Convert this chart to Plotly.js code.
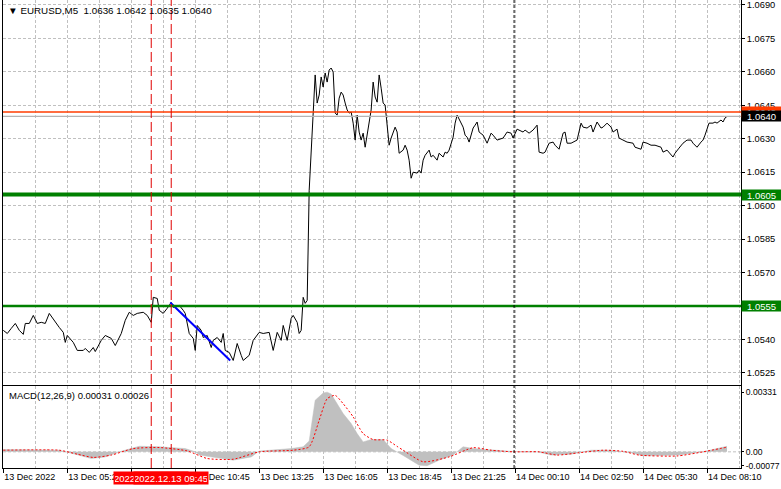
<!DOCTYPE html>
<html>
<head>
<meta charset="utf-8">
<script src="https://cdn.plot.ly/plotly-3.0.1.min.js"></script>
<style>
  html, body { margin: 0; padding: 0; background: #ffffff; }
  #chart { width: 781px; height: 489px; }
</style>
</head>
<body>
<div id="chart"></div>
<script>
// ---------- DATA ----------
// M5 bar number counted from the first bar on the chart
const priceBar = [
  0,2,4,6,8,10,11,13,15,17,19,21,23,25,28,30,31,32,35,37,40,41,43,45,46,49,51,54,56,59,61,63,65,67,70,72,74,75,77,78,80,82,84,85,88,90,91,93,95,96,97,99,100,102,104,105,107,109,110,111,113,115,116,117,119,120,123,125,128,130,133,135,137,139,140,142,144,145,147,148,149,150,151,152,153,154,155,156,
  157,158,159,160,161,162,163,164,165,166,167,168,169,170,171,172,173,174,175,176,177,178,179,180,181,182,183,184,185,186,187,188,189,190,191,192,193,194,195,196,197,198,200,201,202,203,204,205,207,208,209,210,211,212,213,214,215,217,218,220,221,222,223,225,226,227,229,230,231,232,233,235,236,237,238,240,242,244,
  245,247,250,252,254,255,257,260,261,263,265,267,268,270,271,273,275,276,278,280,281,282,284,285,287,289,290,292,294,295,297,299,300,302,304,305,307,308,310,312,315,316,319,320,322,324,326,329,330,332,335,336,338,340,342,344,345,347,349,350,351,353,355,356,357,359,360,361,362
];
const priceClose = [
  1.05441,1.05427,1.05450,1.05472,1.05441,1.05423,1.05472,1.05472,1.05508,1.05472,1.05477,1.05472,1.05517,1.05490,1.05454,1.05432,1.05387,1.05418,1.05387,1.05351,1.05351,1.05360,1.05342,1.05364,1.05346,1.05396,1.05418,1.05405,1.05373,1.05427,1.05486,1.05522,1.05508,1.05517,1.05522,1.05508,1.05477,1.05589,1.05584,1.05531,1.05517,1.05540,1.05566,1.05544,1.05553,1.05531,1.05517,1.05427,1.05405,1.05351,1.05463,1.05441,1.05409,1.05418,1.05364,1.05396,1.05409,1.05387,1.05427,1.05351,1.05342,1.05306,1.05342,1.05382,1.05329,1.05306,1.05329,1.05396,1.05432,1.05427,1.05432,1.05351,1.05432,1.05396,1.05463,1.05396,1.05495,1.05508,1.05477,1.05427,1.05441,1.05589,1.05562,1.05575,1.06069,1.06249,1.06384,1.06586,
  1.06460,1.06496,1.06577,1.06532,1.06595,1.06554,1.06608,1.06617,1.06599,1.06415,1.06406,1.06482,1.06509,1.06496,1.06460,1.06429,1.06415,1.06420,1.06370,1.06294,1.06406,1.06330,1.06294,1.06325,1.06262,1.06316,1.06370,1.06429,1.06554,1.06487,1.06464,1.06586,1.06527,1.06460,1.06451,1.06352,1.06271,1.06303,1.06330,1.06352,1.06330,1.06235,1.06249,1.06271,1.06249,1.06204,1.06123,1.06150,1.06146,1.06159,1.06146,1.06204,1.06226,1.06240,1.06249,1.06218,1.06226,1.06204,1.06235,1.06218,1.06240,1.06235,1.06249,1.06307,1.06370,1.06406,1.06370,1.06352,1.06316,1.06307,1.06285,1.06348,1.06361,1.06375,1.06330,1.06316,1.06280,1.06325,
  1.06316,1.06294,1.06303,1.06330,1.06325,1.06303,1.06343,1.06330,1.06339,1.06325,1.06339,1.06361,1.06240,1.06235,1.06240,1.06280,1.06285,1.06271,1.06253,1.06325,1.06330,1.06280,1.06280,1.06285,1.06294,1.06370,1.06352,1.06348,1.06361,1.06330,1.06375,1.06348,1.06352,1.06370,1.06352,1.06330,1.06343,1.06303,1.06294,1.06285,1.06280,1.06262,1.06253,1.06285,1.06280,1.06271,1.06271,1.06262,1.06240,1.06249,1.06218,1.06235,1.06258,1.06280,1.06294,1.06294,1.06280,1.06262,1.06285,1.06294,1.06316,1.06370,1.06370,1.06375,1.06370,1.06384,1.06375,1.06393,1.06400
];

const macdBar  = [0,14,28,36,44,51,58,68,78,91,96,98,115,124,128,144,150,153,154,156,160,162,164,167,170,174,177,180,184,190,194,200,204,208,212,218,225,230,235,244,255,267,274,284,294,304,314,320,330,338,350,357,362];
const macdMain = [0.00013,0.00013,0.00009,-0.00013,-0.00037,-0.00028,0,0.00031,0.00028,0.00018,0,-0.00018,-0.00046,-0.00028,0.00004,0.00018,0.00028,0.00060,0.00138,0.00286,0.00326,0.00331,0.00320,0.00267,0.00212,0.00157,0.00101,0.00055,0.00068,0.00068,0.00018,-0.00020,-0.00046,-0.00074,-0.00077,-0.00046,-0.00018,0.00028,0.00018,0.00009,0.00002,0,-0.00018,-0.00013,0.00009,0.00009,-0.00005,-0.00022,-0.00022,-0.00018,0,0.00018,0.00031];

const signalBar  = [0,28,37,45,54,65,78,92,102,115,128,145,153,158,162,166,170,175,180,185,192,197,200,210,223,235,244,255,268,277,288,300,310,318,337,350,362];
const macdSignal = [0.00009,0.00009,-0.00013,-0.00031,-0.00018,0.00018,0.00024,0.00005,-0.00037,-0.00041,0,0.00009,0.00028,0.00175,0.00295,0.00313,0.00267,0.00194,0.00101,0.00068,0.00065,0.00030,0.00009,-0.00055,-0.00028,0.00023,0.00009,0,0,-0.00018,-0.00005,0.00009,0.00003,-0.00018,-0.00023,0,0.00026];

const levelPrices = [1.0605, 1.0555];
const bidPrice = 1.0640;
const askPrice = 1.0642;
const trendBars = [83.5, 113.5];
const trendPrices = [1.05566, 1.05306];

const priceTicks = [1.0525,1.0540,1.0555,1.0570,1.0585,1.0600,1.0615,1.0630,1.0645,1.0660,1.0675,1.0690];
const macdTicks = [-0.00077, 0, 0.00331];
const macdTickLabels = ['-0.00077', '0.00', '0.00331'];

const timeTickBars = [0,32,64,96,128,160,192,224,256,288,320,352];
const timeTickLabels = ['13 Dec 2022','13 Dec 05:25','13 Dec 08:05','13 Dec 10:45','13 Dec 13:25','13 Dec 16:05','13 Dec 18:45','13 Dec 21:25','14 Dec 00:10','14 Dec 02:50','14 Dec 05:30','14 Dec 08:10'];

const markerBars = [74, 84];
const markerLabels = ['2022.12.13 08:55', '2022.12.13 09:45'];
const daySeparatorBar = 255.5;

const headerText = '\u25BC EURUSD,M5  1.0636 1.0642 1.0635 1.0640';
const macdText = 'MACD(12,26,9) 0.00031 0.00026';

// ---------- CHART ----------
const FONT = 'Liberation Sans, Arial, sans-serif';
const GRID = '#c0c0c0';

const traces = [
  { x: priceBar, y: priceClose, xaxis: 'x2', yaxis: 'y', type: 'scatter', mode: 'lines',
    line: { color: '#000000', width: 1 }, hoverinfo: 'skip' },
  { x: trendBars, y: trendPrices, xaxis: 'x2', yaxis: 'y', type: 'scatter', mode: 'lines',
    line: { color: '#0000ff', width: 2 }, hoverinfo: 'skip' },
  { x: macdBar, y: macdMain, xaxis: 'x', yaxis: 'y2', type: 'scatter', mode: 'lines',
    fill: 'tozeroy', fillcolor: '#c0c0c0', line: { color: '#c0c0c0', width: 0.5 }, hoverinfo: 'skip' },
  { x: signalBar, y: macdSignal, xaxis: 'x', yaxis: 'y2', type: 'scatter', mode: 'lines',
    line: { color: '#ff0000', width: 1, dash: '2px,2px', shape: 'spline', smoothing: 0.6 }, hoverinfo: 'skip' }
];

const xRange = [-0.15, 369];
const shapes = [];
shapes.push({ type: 'line', xref: 'paper', x0: 0, x1: 1, yref: 'y2', y0: 0, y1: 0,
  line: { color: GRID, width: 1, dash: '3px,2px' }, layer: 'below' });
levelPrices.forEach((p, i) => {
  shapes.push({ type: 'line', xref: 'paper', x0: 0, x1: 1, yref: 'y', y0: p, y1: p,
    line: { color: '#008000', width: i === 0 ? 4 : 2.5 }, layer: 'above' });
});
shapes.push({ type: 'line', xref: 'paper', x0: 0, x1: 1, yref: 'y', y0: askPrice, y1: askPrice,
  line: { color: '#ff3c00', width: 1.3 }, layer: 'above' });
shapes.push({ type: 'line', xref: 'paper', x0: 0, x1: 1, yref: 'y', y0: bidPrice, y1: bidPrice,
  line: { color: '#b4b4b4', width: 1.2 }, layer: 'above' });
markerBars.forEach(b => {
  shapes.push({ type: 'line', xref: 'x', x0: b, x1: b, yref: 'paper', y0: 0, y1: 1,
    line: { color: '#e00000', width: 1, dash: '10px,4px' }, layer: 'above' });
});
shapes.push({ type: 'line', xref: 'x', x0: daySeparatorBar, x1: daySeparatorBar, yref: 'paper', y0: 0, y1: 1,
  line: { color: '#000000', width: 1, dash: '3px,2px' }, layer: 'above' });

const annotations = [
  { text: headerText, xref: 'paper', yref: 'paper', x: 0, y: 0.9786, xanchor: 'left', yanchor: 'middle',
    xshift: 3, showarrow: false, font: { family: FONT, size: 9.8, color: '#000000' } },
  { text: macdText, xref: 'paper', yref: 'paper', x: 0, y: 0.1545, xanchor: 'left', yanchor: 'middle',
    xshift: 4, showarrow: false, font: { family: FONT, size: 9.5, color: '#000000' } }
];
function priceLabel(p, bg) {
  return { text: p.toFixed(4), xref: 'paper', yref: 'y', x: 1, y: p, xanchor: 'left', yanchor: 'middle',
    xshift: 0, showarrow: false, bgcolor: bg, borderpad: 0, width: 39, height: 10, align: 'center',
    font: { family: FONT, size: 9.5, color: '#ffffff' } };
}
levelPrices.forEach(p => annotations.push(priceLabel(p, '#008000')));
annotations.push(priceLabel(askPrice, '#ff3c00'));
annotations.push(priceLabel(bidPrice, '#000000'));
markerBars.forEach((b, i) => {
  annotations.push({ text: markerLabels[i], xref: 'x', yref: 'paper', x: b, y: -0.0215, xanchor: 'center', yanchor: 'middle',
    showarrow: false, bgcolor: '#ff0000', borderpad: 1, width: 72, height: 10,
    font: { family: FONT, size: 9.5, color: '#ffffff' } });
});

const axisFont = { family: FONT, size: 9.3, color: '#000000' };
const smallFont = { family: FONT, size: 9, color: '#000000' };
const layout = {
  width: 781, height: 489,
  margin: { l: 3, r: 40, t: 0, b: 21, pad: 0 },
  paper_bgcolor: '#ffffff', plot_bgcolor: '#ffffff',
  showlegend: false,
  font: axisFont,
  xaxis: {
    domain: [0, 1], anchor: 'y2', range: xRange,
    tickmode: 'array', tickvals: timeTickBars, ticktext: timeTickLabels,
    ticklabelposition: 'outside right',
    ticks: 'outside', ticklen: 4, tickcolor: '#000000', tickfont: smallFont,
    showgrid: true, gridcolor: GRID, griddash: '3px,2px', gridwidth: 1,
    minor: { tickmode: 'linear', tick0: 0, dtick: 16, showgrid: true, gridcolor: GRID, griddash: '3px,2px', ticks: '' },
    showline: true, mirror: true, linecolor: '#000000', linewidth: 1, zeroline: false, fixedrange: true
  },
  xaxis2: {
    domain: [0, 1], anchor: 'y', matches: 'x', range: xRange,
    tickmode: 'array', tickvals: timeTickBars, showticklabels: false, ticks: '',
    showgrid: true, gridcolor: GRID, griddash: '3px,2px', gridwidth: 1,
    minor: { tickmode: 'linear', tick0: 0, dtick: 16, showgrid: true, gridcolor: GRID, griddash: '3px,2px', ticks: '' },
    showline: true, mirror: false, linecolor: '#000000', linewidth: 1, zeroline: false, fixedrange: true
  },
  yaxis: {
    domain: [0.17735, 1], anchor: 'x2', side: 'right', range: [1.05196, 1.06922],
    tickmode: 'array', tickvals: priceTicks, ticktext: priceTicks.map(v => v.toFixed(4)),
    ticks: 'outside', ticklen: 3, tickcolor: '#000000', tickfont: axisFont,
    showgrid: true, gridcolor: GRID, griddash: '3px,2px',
    showline: true, mirror: true, linecolor: '#000000', linewidth: 1, zeroline: false, fixedrange: true
  },
  yaxis2: {
    domain: [0, 0.17521], anchor: 'x', side: 'right', range: [-0.000896, 0.00365],
    tickmode: 'array', tickvals: macdTicks, ticktext: macdTickLabels,
    ticks: 'outside', ticklen: 2, tickcolor: '#000000', tickfont: { family: FONT, size: 8.6, color: '#000000' },
    showgrid: false,
    showline: true, mirror: true, linecolor: '#000000', linewidth: 1, zeroline: false, fixedrange: true
  },
  shapes: shapes,
  annotations: annotations
};

Plotly.newPlot('chart', traces, layout, { staticPlot: true, displayModeBar: false });
</script>
</body>
</html>
